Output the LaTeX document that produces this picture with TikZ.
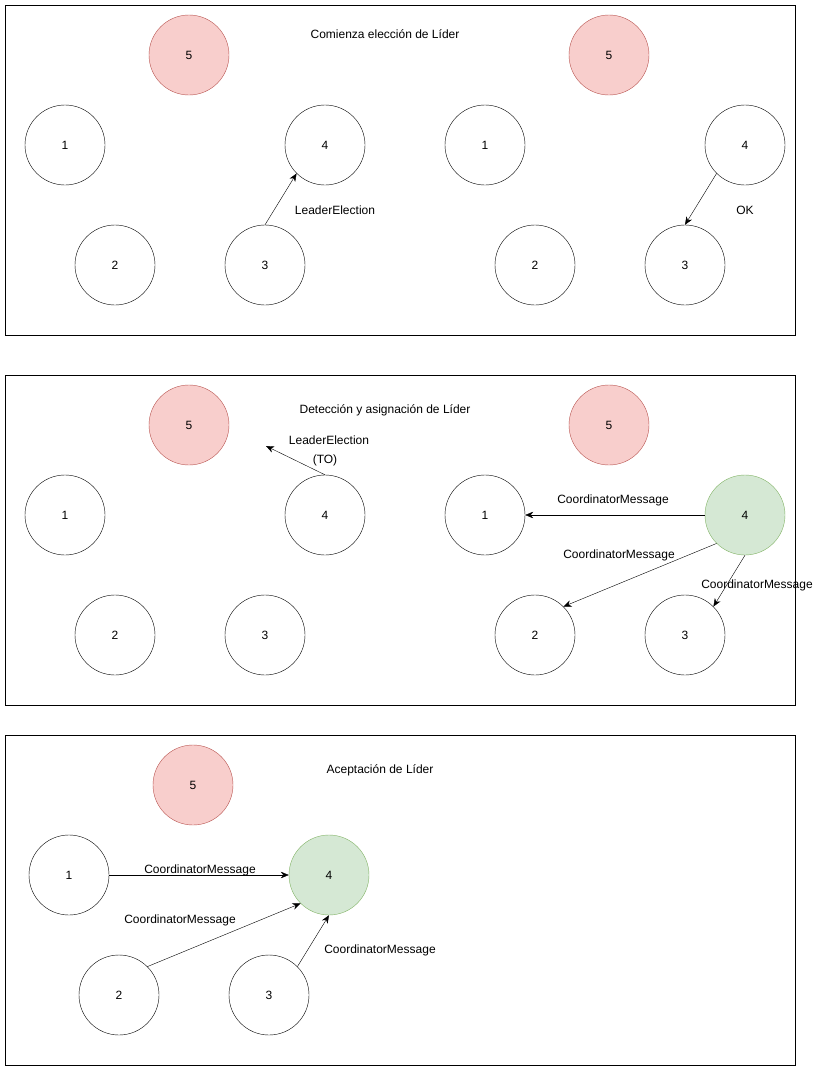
\documentclass[tikz,border=0pt]{standalone}
\usepackage{fontspec}
\setmainfont{Liberation Sans}
\usepackage{tikz}
\usetikzlibrary{arrows.meta}

\begin{document}
\begin{tikzpicture}[x=1pt,y=-1pt,>={Stealth[length=8pt,width=6.5pt,inset=2.5pt]},
    every node/.style={font=\fontsize{12}{14}\selectfont},
    proc/.style={circle,draw,minimum size=80pt,inner sep=0pt},
    leader/.style={proc,draw={rgb,255:red,184;green,84;blue,80},fill={rgb,255:red,248;green,206;blue,204}},
    coord/.style={proc,draw={rgb,255:red,130;green,179;blue,102},fill={rgb,255:red,213;green,232;blue,212}},
    panel/.style={draw,line width=1pt}]
  \useasboundingbox (0,0) rectangle (828,1071);
  \draw[panel] (5.5,5.5) rectangle (795.5,335.5);
  \draw[panel] (5.5,375.5) rectangle (795.5,705.5);
  \draw[panel] (5.5,735.5) rectangle (795.5,1065.5);

  % Comienza eleccion
  \node (t1) at (385,34) {Comienza elección de Líder};
  \node[leader] (a5) at (189,55) {5};
  \node[proc] (a1) at (65,145) {1};
  \node[proc] (a4) at (325,145) {4};
  \node[proc] (a2) at (115,265) {2};
  \node[proc] (a3) at (265,265) {3};
  \draw[->] (a3.north) -- (a4.225);
  \node (la) at (335,210) {LeaderElection};
  \node[leader] (b5) at (609,55) {5};
  \node[proc] (b1) at (485,145) {1};
  \node[proc] (b4) at (745,145) {4};
  \node[proc] (b2) at (535,265) {2};
  \node[proc] (b3) at (685,265) {3};
  \draw[->] (b4.225) -- (b3.north);
  \node (lb) at (745,210) {OK};

  % Deteccion y asignacion
  \node (t2) at (385,410) {Detección y asignación de Líder};
  \node[leader] (c5) at (189,425) {5};
  \node[proc] (c1) at (65,515) {1};
  \node[proc] (c4) at (325,515) {4};
  \node[proc] (c2) at (115,635) {2};
  \node[proc] (c3) at (265,635) {3};
  \coordinate (cto) at (266,446);
  \draw[->] (c4.north) -- (cto);
  \node (lc) at (329,440) {LeaderElection};
  \node (lto) at (325,460) {(TO)};
  \node[leader] (d5) at (609,425) {5};
  \node[proc] (d1) at (485,515) {1};
  \node[coord] (d4) at (745,515) {4};
  \node[proc] (d2) at (535,635) {2};
  \node[proc] (d3) at (685,635) {3};
  \draw[->] (d4.west) -- (d1.east);
  \draw[->] (d4.225) -- (d2.45);
  \draw[->] (d4.south) -- (d3.45);
  \node (ld1) at (613,500) {CoordinatorMessage};
  \node (ld2) at (619,555) {CoordinatorMessage};
  \node (ld3) at (757,585) {CoordinatorMessage};

  % Aceptacion
  \node (t3) at (380,770) {Aceptación de Líder};
  \node[leader] (e5) at (193,785) {5};
  \node[proc] (e1) at (69,875) {1};
  \node[coord] (e4) at (329,875) {4};
  \node[proc] (e2) at (119,995) {2};
  \node[proc] (e3) at (269,995) {3};
  \draw[->] (e1.east) -- (e4.west);
  \draw[->] (e2.45) -- (e4.225);
  \draw[->] (e3.45) -- (e4.south);
  \node (le1) at (200,870) {CoordinatorMessage};
  \node (le2) at (180,920) {CoordinatorMessage};
  \node (le3) at (380,950) {CoordinatorMessage};
\end{tikzpicture}
\end{document}
